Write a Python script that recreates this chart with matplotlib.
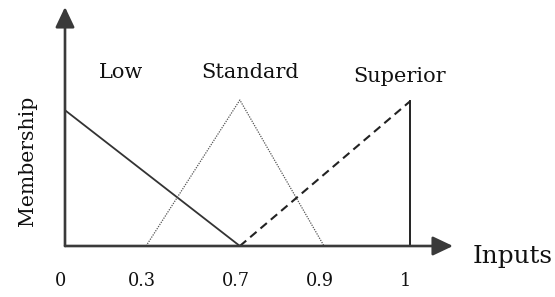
import numpy as np
import matplotlib
matplotlib.use("Agg")
import matplotlib.pyplot as plt
import matplotlib.transforms as mtransforms

# ---- data ----
tick_values = [0, 0.3, 0.7, 0.9, 1]
tick_labels = ["0", "0.3", "0.7", "0.9", "1"]

low_x = [0, 0.7]
low_y = [0.93, 0]

standard_x = [0.3, 0.7, 0.9]
standard_y = [0, 1, 0]

superior_x = [0.7, 1]
superior_y = [0, 0.99]
superior_edge_x = [1, 1]
superior_edge_y = [0, 0.99]

set_names = ["Low", "Standard", "Superior"]

# ---- schematic (non-uniform) x scale ----
_vals = np.array([-1.0, 0.0, 0.3, 0.7, 0.9, 1.0, 2.0])
_pos = np.array([-0.78, 0.0, 0.235, 0.507, 0.751, 1.0, 3.49])

def fwd(x):
    return np.interp(np.asarray(x, dtype=float), _vals, _pos)

def inv(u):
    return np.interp(np.asarray(u, dtype=float), _pos, _vals)

W, H = 555, 297
fig = plt.figure(figsize=(W / 100, H / 100), dpi=100)
ax = fig.add_axes([65 / W, (H - 246) / H, (453 - 65) / W, (246 - 7) / H])
ax.set_xscale("function", functions=(fwd, inv))
ax.set_xlim(0, inv(1.125))
ax.set_ylim(0, 239 / 146)

for s in ax.spines.values():
    s.set_visible(False)

serif = ["DejaVu Serif"]
txt = "#111111"

# axes arrows
arrow_kw = dict(arrowstyle="-|>,head_length=0.95,head_width=0.45", lw=1.9,
                color="#3a3a3a", shrinkA=0, shrinkB=0, mutation_scale=13)
ax.annotate("", xy=(1, 0), xytext=(0, 0), xycoords="axes fraction",
            arrowprops=arrow_kw, annotation_clip=False)
ax.annotate("", xy=(0, 1), xytext=(0, 0), xycoords="axes fraction",
            arrowprops=arrow_kw, annotation_clip=False)

# membership functions
ax.plot(low_x, low_y, color="#333333", lw=1.3, solid_capstyle="butt")
ax.plot(standard_x, standard_y, color="#555555", lw=0.9, ls=(0, (1, 1.0)))
ax.plot(superior_x, superior_y, color="#222222", lw=1.5, ls=(0, (4, 2.5)))
ax.plot(superior_edge_x, superior_edge_y, color="#222222", lw=1.4)

ax.set_xticks(tick_values)
ax.set_xticklabels(tick_labels, family=serif, fontsize=12.8, color=txt)
ax.tick_params(axis="x", length=0, pad=19)
ax.set_yticks([])
shift = mtransforms.ScaledTranslation(-4 / 100, 0, fig.dpi_scale_trans)
for lab in ax.get_xticklabels():
    lab.set_transform(lab.get_transform() + shift)

ax.text(0.207, 1.19, set_names[0], family=serif, fontsize=15, color=txt,
        ha="center", va="center")
ax.text(0.724, 1.19, set_names[1], family=serif, fontsize=15, color=txt,
        ha="center", va="center")
ax.text(0.988, 1.16, set_names[2], family=serif, fontsize=15, color=txt,
        ha="center", va="center")

fig.text(27 / W, 1 - 161 / H, "Membership", family=serif, fontsize=14.7,
         color=txt, rotation=90, ha="center", va="center")
fig.text(513 / W, 1 - 257 / H, "Inputs", family=serif, fontsize=17.8,
         color=txt, ha="center", va="center")

fig.savefig("out.png", dpi=100, facecolor="white")
